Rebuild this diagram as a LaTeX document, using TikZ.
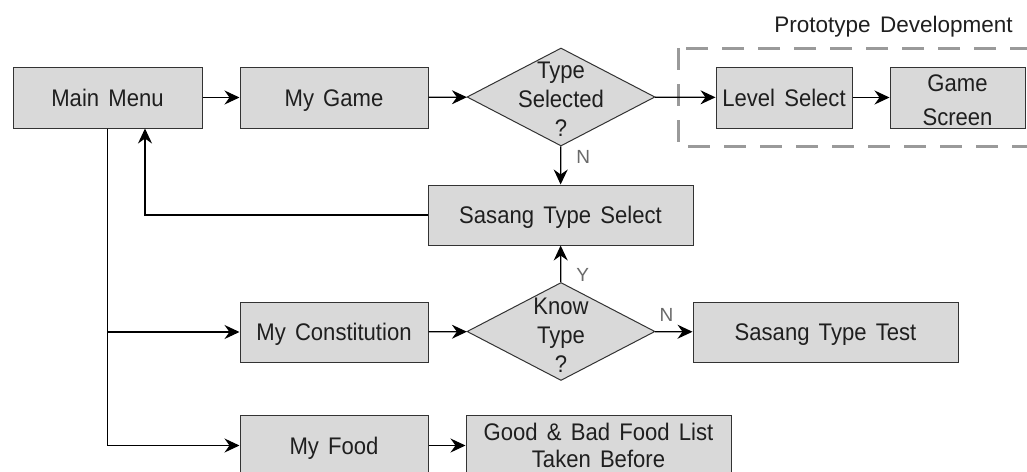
\documentclass[tikz,border=0pt]{standalone}
\usepackage{fontspec}
\setmainfont{Liberation Sans}[WordSpace=1.5,FakeStretch=0.92]
\newfontfamily\plainsans{Liberation Sans}[WordSpace=1.5]
\usetikzlibrary{shapes.geometric,arrows.meta}
\definecolor{boxfill}{HTML}{D9D9D9}
\definecolor{boxline}{HTML}{333333}
\definecolor{lblgray}{HTML}{6A6A6A}
\definecolor{dashgray}{HTML}{9A9A9A}
\begin{document}
\begin{tikzpicture}[x=1pt,y=-1pt,
  shell/.style={draw=boxline,fill=boxfill,line width=1pt,inner sep=0pt,text=black!88},
  box/.style={shell,font=\fontsize{24}{28}\selectfont,text height=17.5pt,text depth=0pt},
  mbox/.style={shell,align=center},
  dec/.style={diamond,draw=boxline,fill=boxfill,line width=1pt,inner sep=0pt,
    minimum width=188pt,minimum height=98pt},
  dtext/.style={align=center,inner sep=0pt,font=\fontsize{24}{29}\selectfont,text=black!88},
  conn/.style={line width=1.2pt,-{Stealth[length=15pt,width=14pt,inset=5pt]}},
  yn/.style={text=lblgray,font=\plainsans\fontsize{19}{19}\selectfont,inner sep=0pt},
]
\clip (0,0) rectangle (1027,471);
\fill[white] (0,0) rectangle (1027,471);
% dashed group frame
\draw[dashgray,line width=3pt,dash pattern=on 22pt off 14pt] (678,48) rectangle (1045,146);
\node[font=\plainsans\fontsize{22.5}{27}\selectfont,inner sep=0pt,text=black!88] (pd) at (893.5,27) {Prototype Development};
% nodes
\node[box,minimum width=189pt,minimum height=61pt] (mm) at (107.5,97.5) {Main Menu};
\node[box,minimum width=188pt,minimum height=61pt] (mg) at (334,97.5) {My Game};
\node[dec,label={[dtext,yshift=-2.5pt]center:Type\\Selected\\?}] (ts) at (561,97) {};
\node[box,minimum width=136pt,minimum height=61pt] (ls) at (784,97.5) {Level Select};
\node[mbox,minimum width=135pt,minimum height=61pt,
  label={[dtext,font=\fontsize{24}{34}\selectfont,yshift=-2.5pt]center:Game\\Screen}] (gs) at (957.5,97.5) {};
\node[box,minimum width=265pt,minimum height=60pt] (sts) at (560.5,215) {Sasang Type Select};
\node[dec,label={[dtext,yshift=-3.5pt]center:Know\\Type\\?}] (kt) at (561,331.5) {};
\node[box,minimum width=188pt,minimum height=60pt] (mc) at (334,332) {My Constitution};
\node[box,minimum width=265pt,minimum height=60pt] (stt) at (825.5,332) {Sasang Type Test};
\node[box,minimum width=188pt,minimum height=61pt] (mf) at (334,445.5) {My Food};
\node[mbox,minimum width=265pt,minimum height=61pt,
  label={[dtext,font=\fontsize{24}{27}\selectfont,yshift=0pt]center:Good \& Bad Food List\\Taken Before}] (gb) at (598.5,445.5) {};
% connectors
\draw[conn] (mm) -- (mg);
\draw[conn] (mg) -- (ts);
\draw[conn] (ts) -- (ls);
\draw[conn] (ls) -- (gs);
\draw[conn] (ts) -- node[yn,pos=0.28,right=15pt] {N} (sts);
\draw[conn] (kt) -- node[yn,pos=0.2,right=15pt] {Y} (sts);
\draw[conn] (sts.west) -| ([xshift=37.5pt]mm.south);
\draw[conn] (mm.south) |- (mc.west);
\draw[conn] (mm.south) |- (mf.west);
\draw[conn] (mc) -- (kt);
\draw[conn] (kt) -- node[yn,pos=0.3,above=10pt] {N} (stt);
\draw[conn] (mf) -- (gb);
\end{tikzpicture}
\end{document}
